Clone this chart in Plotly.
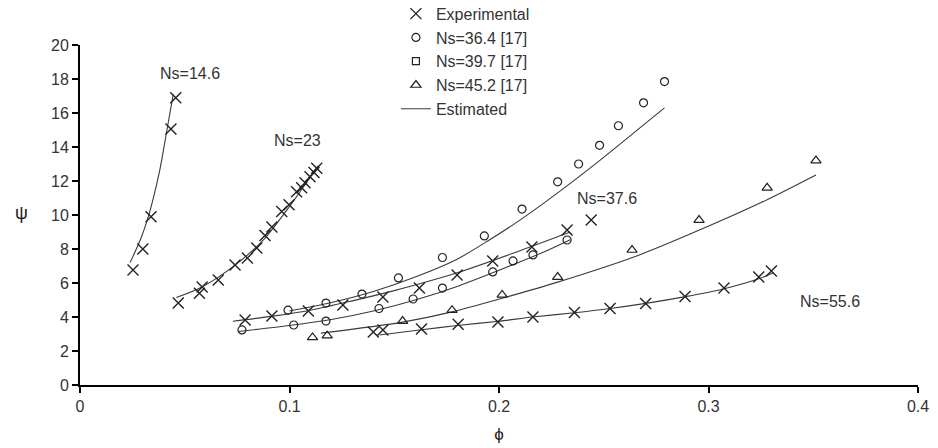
import plotly.graph_objects as go

# ---------------- data ----------------
# Experimental crosses
exp146_phi = [0.0253, 0.0300, 0.0339, 0.0434, 0.0457]
exp146_psi = [6.76, 8.0, 9.9, 15.06, 16.9]

exp23_phi = [0.0469, 0.0570, 0.0583, 0.0660, 0.0740, 0.0799, 0.0844, 0.0883,
             0.0916, 0.0963, 0.0998, 0.1034, 0.1058, 0.1074, 0.1098, 0.1117, 0.1130]
exp23_psi = [4.82, 5.40, 5.76, 6.18, 7.06, 7.47, 8.06, 8.80,
             9.30, 10.20, 10.60, 11.37, 11.60, 11.90, 12.25, 12.50, 12.75]

exp376_phi = [0.0788, 0.0916, 0.1090, 0.1255, 0.1446, 0.1620, 0.1800, 0.1970, 0.2157, 0.2325, 0.2440]
exp376_psi = [3.82, 4.06, 4.35, 4.70, 5.18, 5.70, 6.47, 7.30, 8.12, 9.12, 9.70]

exp556_phi = [0.1400, 0.1446, 0.1630, 0.1805, 0.1995, 0.2162, 0.2360, 0.2530, 0.2700, 0.2888, 0.3074, 0.3240, 0.3300]
exp556_psi = [3.12, 3.24, 3.30, 3.58, 3.70, 4.00, 4.26, 4.50, 4.80, 5.20, 5.70, 6.35, 6.70]

# Reference data [17]
ns364_phi = [0.0993, 0.1174, 0.1346, 0.1520, 0.1730, 0.1930, 0.2110, 0.2280, 0.2380, 0.2480, 0.2570, 0.2690, 0.2790]
ns364_psi = [4.40, 4.82, 5.35, 6.30, 7.50, 8.77, 10.35, 11.95, 13.00, 14.10, 15.25, 16.60, 17.85]

ns397_phi = [0.0773, 0.1020, 0.1174, 0.1427, 0.1590, 0.1730, 0.1970, 0.2067, 0.2162, 0.2325]
ns397_psi = [3.24, 3.53, 3.76, 4.50, 5.06, 5.70, 6.65, 7.30, 7.65, 8.53]

ns452_phi = [0.1110, 0.1180, 0.1540, 0.1776, 0.2015, 0.2280, 0.2635, 0.2955, 0.3280, 0.3513]
ns452_psi = [2.80, 2.90, 3.76, 4.40, 5.30, 6.35, 7.94, 9.70, 11.60, 13.20]

# Estimated curves
est146_phi = [0.0239, 0.0290, 0.0326, 0.0380, 0.0415, 0.0445]
est146_psi = [7.2, 8.6, 9.9, 12.6, 15.0, 17.1]

est23_phi = [0.0460, 0.0580, 0.0740, 0.0880, 0.1000, 0.1136]
est23_psi = [5.15, 5.75, 7.05, 8.60, 10.50, 12.90]

est376_phi = [0.0730, 0.0920, 0.1100, 0.1300, 0.1500, 0.1800, 0.2100, 0.2340]
est376_psi = [3.75, 4.05, 4.40, 4.95, 5.55, 6.60, 7.90, 9.00]

est364_phi = [0.1000, 0.1200, 0.1400, 0.1600, 0.1800, 0.1950, 0.2100, 0.2280, 0.2480, 0.2690, 0.2790]
est364_psi = [4.35, 4.85, 5.50, 6.35, 7.40, 8.50, 9.70, 11.30, 13.20, 15.30, 16.30]

est397_phi = [0.0755, 0.1000, 0.1200, 0.1400, 0.1600, 0.1800, 0.2000, 0.2200, 0.2340]
est397_psi = [3.15, 3.50, 3.85, 4.35, 5.00, 5.80, 6.75, 7.75, 8.55]

est452_phi = [0.1150, 0.1540, 0.1776, 0.2015, 0.2280, 0.2670, 0.3020, 0.3280, 0.3513]
est452_psi = [3.05, 3.70, 4.30, 5.10, 6.05, 7.65, 9.45, 10.90, 12.35]

est556_phi = [0.1430, 0.1630, 0.1800, 0.2000, 0.2160, 0.2360, 0.2530, 0.2700, 0.2890, 0.3070, 0.3240, 0.3310]
est556_psi = [2.94, 3.25, 3.50, 3.75, 4.00, 4.25, 4.50, 4.80, 5.20, 5.65, 6.25, 6.60]

# Curve labels
label_text = ["Ns=14.6", "Ns=23", "Ns=37.6", "Ns=55.6"]
label_phi = [0.0525, 0.1040, 0.2515, 0.3580]
label_psi = [18.35, 14.40, 11.00, 4.90]

x_ticks = [0, 0.1, 0.2, 0.3, 0.4]
x_tick_text = ["0", "0.1", "0.2", "0.3", "0.4"]
y_ticks = [0, 2, 4, 6, 8, 10, 12, 14, 16, 18, 20]

# ---------------- figure ----------------
FONT = "Liberation Sans, Arial, sans-serif"
LINE_COL = "#3a3a3a"
MK_COL = "#222222"

fig = go.Figure()

# Estimated lines
est_sets = [(est146_phi, est146_psi), (est23_phi, est23_psi), (est376_phi, est376_psi),
            (est364_phi, est364_psi), (est397_phi, est397_psi), (est452_phi, est452_psi),
            (est556_phi, est556_psi)]
for px, py in est_sets:
    fig.add_trace(go.Scatter(x=px, y=py, mode="lines",
                             line=dict(color=LINE_COL, width=1.1, shape="spline", smoothing=0.8),
                             showlegend=False, hoverinfo="skip"))

cross = dict(symbol="x-thin-open", size=11, color=MK_COL, line=dict(color=MK_COL, width=1.4))
for i, (px, py) in enumerate([(exp146_phi, exp146_psi), (exp23_phi, exp23_psi),
                              (exp376_phi, exp376_psi), (exp556_phi, exp556_psi)]):
    fig.add_trace(go.Scatter(x=px, y=py, mode="markers", marker=cross, name="Experimental",
                             showlegend=(i == 0), legendrank=1))

circ = dict(symbol="circle-open", size=8, color=MK_COL, line=dict(color=MK_COL, width=1.2))
fig.add_trace(go.Scatter(x=ns364_phi, y=ns364_psi, mode="markers", name="Ns=36.4 [17]", legendrank=2,
                         marker=circ))
fig.add_trace(go.Scatter(x=ns397_phi, y=ns397_psi, mode="markers", name="Ns=39.7 [17]", showlegend=False,
                         marker=circ))
# legend entry for Ns=39.7 (square symbol as in the reference legend)
fig.add_trace(go.Scatter(x=[None], y=[None], mode="markers", name="Ns=39.7 [17]", legendrank=3,
                         marker=dict(symbol="square-open", size=7, color=MK_COL,
                                     line=dict(color=MK_COL, width=1.2))))
fig.add_trace(go.Scatter(x=ns452_phi, y=ns452_psi, mode="markers", name="Ns=45.2 [17]", legendrank=4,
                         marker=dict(symbol="triangle-up-open", size=9, color=MK_COL,
                                     line=dict(color=MK_COL, width=1.2))))
fig.add_trace(go.Scatter(x=[None], y=[None], mode="lines", name="Estimated", legendrank=5,
                         line=dict(color=LINE_COL, width=1.1)))

for t, lx, ly in zip(label_text, label_phi, label_psi):
    fig.add_annotation(x=lx, y=ly, text=t, showarrow=False, font=dict(size=16, color="#333333", family=FONT))

fig.add_annotation(xref="paper", yref="paper", x=-0.08, y=0.505, text="ψ", showarrow=False,
                   font=dict(size=18, color="#222222", family=FONT))

fig.update_layout(
    width=938, height=448,
    margin=dict(l=80, r=20, t=45, b=63, autoexpand=False),
    paper_bgcolor="white", plot_bgcolor="white",
    font=dict(family=FONT, size=16, color="#333333"),
    legend=dict(x=0.377, y=1.142, xanchor="left", yanchor="top", bgcolor="rgba(0,0,0,0)",
                font=dict(size=16, color="#333333"), tracegroupgap=0, itemwidth=30),
)
fig.update_xaxes(range=[0, 0.4], tickvals=x_ticks, ticktext=x_tick_text,
                 showline=True, linecolor="black", linewidth=2, ticks="outside", ticklen=6, tickwidth=1.5,
                 tickcolor="black", showgrid=False, zeroline=False,
                 title=dict(text="ϕ", standoff=14, font=dict(size=17, color="#222222")))
fig.update_yaxes(range=[0, 20], tickvals=y_ticks, showline=True, linecolor="black", linewidth=2,
                 ticks="outside", ticklen=6, tickwidth=1.5, tickcolor="black", showgrid=False, zeroline=False)

fig.write_html("out.html")
